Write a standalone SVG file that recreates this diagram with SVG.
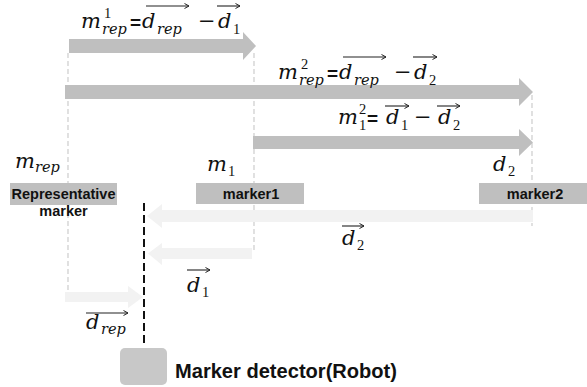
<svg xmlns="http://www.w3.org/2000/svg" width="587" height="387" viewBox="0 0 587 387">
<style>
.big{fill:#bfbfbf}
.light{fill:#f2f2f2}
.guide{stroke:#d4d4d4;stroke-width:1.4;stroke-dasharray:5 3;fill:none}
.mi{font-family:"DejaVu Serif","Liberation Serif",serif;font-style:italic;font-size:21px;fill:#111}
.s{font-size:14.5px}
.n{font-family:"Liberation Serif","DejaVu Serif",serif;font-style:normal;font-size:14.5px}
.op{font-style:normal;font-size:21px}
.eq{font-family:"Liberation Sans",Arial,sans-serif;font-style:normal;font-weight:bold;font-size:19px}
.vec{stroke:#222;stroke-width:1.1;fill:none;marker-end:url(#vh)}
.box{fill:#bfbfbf}
.lbl{font-family:"Liberation Sans",Arial,sans-serif;font-weight:bold;font-size:14.5px;fill:#111;text-anchor:middle}
</style>
<defs>
<marker id="vh" markerWidth="6" markerHeight="6" refX="5" refY="3" orient="auto" markerUnits="userSpaceOnUse">
<path d="M0.5,0.5 L5,3 L0.5,5.5" fill="none" stroke="#222" stroke-width="1"/>
</marker>
</defs>
<rect width="587" height="387" fill="#ffffff"/>

<g id="guides">
<line class="guide" x1="68" y1="53" x2="68" y2="293"/>
<line class="guide" x1="254" y1="53" x2="254" y2="250"/>
<line class="guide" x1="532" y1="95" x2="532" y2="226"/>
</g>

<g id="connectors">
<polygon id="arrow-m1rep" class="big" points="69,39 243,39 243,32 256,46 243,60 243,53 69,53"/>
<polygon id="arrow-m2rep" class="big" points="65,85 519,85 519,78 533,92 519,106 519,99 65,99"/>
<polygon id="arrow-m12" class="big" points="253,136 519,136 519,129 533,142.5 519,156 519,149 253,149"/>
<polygon id="arrow-d2" class="light" points="533,210 162,210 162,204 147,216 162,228 162,222 533,222"/>
<polygon id="arrow-d1" class="light" points="252,248 162,248 162,243 148,253.5 162,265 162,259 252,259"/>
<polygon id="arrow-drep" class="light" points="65,292 128,292 128,286 143,297 128,308 128,302 65,302"/>
<line id="robot-axis" x1="144" y1="203" x2="144" y2="347" stroke="#111" stroke-width="2" stroke-dasharray="8 4"/>
</g>

<g id="formula1">
<text class="mi"><tspan x="81" y="28">m</tspan><tspan class="n" x="104" y="17.5">1</tspan><tspan class="s" x="102" y="34">rep</tspan><tspan class="eq" x="130" y="29">=</tspan><tspan x="142" y="28">d</tspan><tspan class="s" x="157" y="34">rep</tspan><tspan class="op" x="198" y="28">−</tspan><tspan x="218" y="28">d</tspan><tspan class="n" x="233" y="34">1</tspan></text>
<line class="vec" x1="146" y1="6" x2="189" y2="6"/>
<line class="vec" x1="217" y1="6" x2="240" y2="6"/>
</g>

<g id="formula2">
<text class="mi"><tspan x="278" y="79">m</tspan><tspan class="n" x="301" y="68.5">2</tspan><tspan class="s" x="299" y="85">rep</tspan><tspan class="eq" x="327" y="80">=</tspan><tspan x="339" y="79">d</tspan><tspan class="s" x="354" y="85">rep</tspan><tspan class="op" x="394" y="79">−</tspan><tspan x="414" y="79">d</tspan><tspan class="n" x="429" y="85">2</tspan></text>
<line class="vec" x1="343" y1="57" x2="386" y2="57"/>
<line class="vec" x1="413" y1="57" x2="437" y2="57"/>
</g>

<g id="formula3">
<text class="mi"><tspan x="338" y="124">m</tspan><tspan class="n" x="359" y="114">2</tspan><tspan class="n" x="359" y="130">1</tspan><tspan class="eq" x="367" y="125">=</tspan><tspan x="386" y="124">d</tspan><tspan class="n" x="401" y="130">1</tspan><tspan class="op" x="414" y="124">−</tspan><tspan x="438" y="124">d</tspan><tspan class="n" x="453" y="130">2</tspan></text>
<line class="vec" x1="385" y1="106" x2="409" y2="106"/>
<line class="vec" x1="437" y1="106" x2="460" y2="106"/>
</g>

<g id="node-rep">
<text class="mi"><tspan x="15" y="168">m</tspan><tspan class="s" x="35" y="172">rep</tspan></text>
<rect class="box" x="10" y="183" width="107" height="22"/>
<text class="lbl" x="63.5" y="199">Representative</text>
<text class="lbl" x="63.5" y="216">marker</text>
</g>

<g id="node-marker1">
<text class="mi"><tspan x="207" y="171">m</tspan><tspan class="n" x="228" y="176">1</tspan></text>
<rect class="box" x="196" y="183" width="108" height="21"/>
<text class="lbl" x="251" y="199">marker1</text>
</g>

<g id="node-marker2">
<text class="mi"><tspan x="493" y="171">d</tspan><tspan class="n" x="508" y="176">2</tspan></text>
<rect class="box" x="479" y="183" width="108" height="21"/>
<text class="lbl" x="535" y="199">marker2</text>
</g>

<g id="label-d2">
<text class="mi"><tspan x="342" y="245">d</tspan><tspan class="n" x="357" y="250">2</tspan></text>
<line class="vec" x1="342" y1="226" x2="364" y2="226"/>
</g>

<g id="label-d1">
<text class="mi"><tspan x="187" y="292">d</tspan><tspan class="n" x="202" y="297">1</tspan></text>
<line class="vec" x1="187" y1="270" x2="210" y2="270"/>
</g>

<g id="label-drep">
<text class="mi"><tspan x="86" y="329">d</tspan><tspan class="s" x="101" y="334">rep</tspan></text>
<line class="vec" x1="86" y1="313" x2="128" y2="313"/>
</g>

<g id="node-robot">
<rect x="120" y="348" width="47" height="37" rx="5" fill="#c8c8c8"/>
<text x="175" y="378" font-family="'Liberation Sans',Arial,sans-serif" font-weight="bold" font-size="20" fill="#111" textLength="222" lengthAdjust="spacingAndGlyphs">Marker detector(Robot)</text>
</g>
</svg>
